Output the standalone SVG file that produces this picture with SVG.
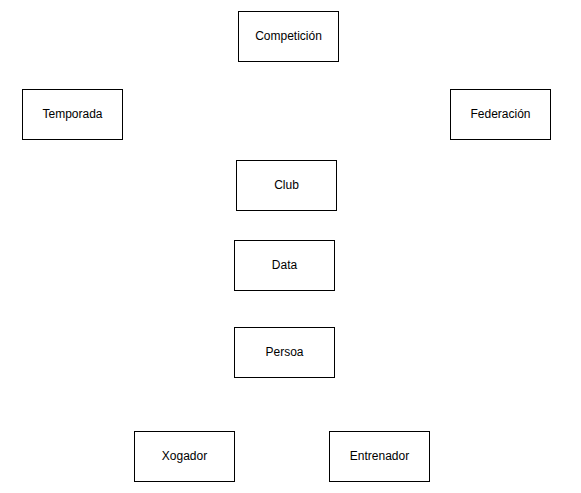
<svg xmlns="http://www.w3.org/2000/svg" width="581" height="493" viewBox="0 0 581 493">
<style>
.n rect{fill:#fff;stroke:#000;stroke-width:1}
.n text{font-family:"Liberation Sans",Arial,sans-serif;font-size:12px;fill:#000;text-anchor:middle;dominant-baseline:central}
</style>
<rect width="581" height="493" fill="#fff"/>
<g id="connectors"></g>
<g id="competicion" class="n"><rect x="238.5" y="11.5" width="100" height="50"/><text x="288.5" y="35.5">Competición</text></g>
<g id="temporada" class="n"><rect x="22.5" y="89.5" width="100" height="50"/><text x="72.5" y="113.5">Temporada</text></g>
<g id="federacion" class="n"><rect x="450.5" y="89.5" width="100" height="50"/><text x="500.5" y="113.5">Federación</text></g>
<g id="club" class="n"><rect x="236.5" y="160.5" width="100" height="50"/><text x="286.5" y="184.5">Club</text></g>
<g id="data" class="n"><rect x="234.5" y="240.5" width="100" height="50"/><text x="284.5" y="264.5">Data</text></g>
<g id="persoa" class="n"><rect x="234.5" y="327.5" width="100" height="50"/><text x="284.5" y="351.5">Persoa</text></g>
<g id="xogador" class="n"><rect x="134.5" y="431.5" width="100" height="50"/><text x="184.5" y="455.5">Xogador</text></g>
<g id="entrenador" class="n"><rect x="329.5" y="431.5" width="100" height="50"/><text x="379.5" y="455.5">Entrenador</text></g>
</svg>
